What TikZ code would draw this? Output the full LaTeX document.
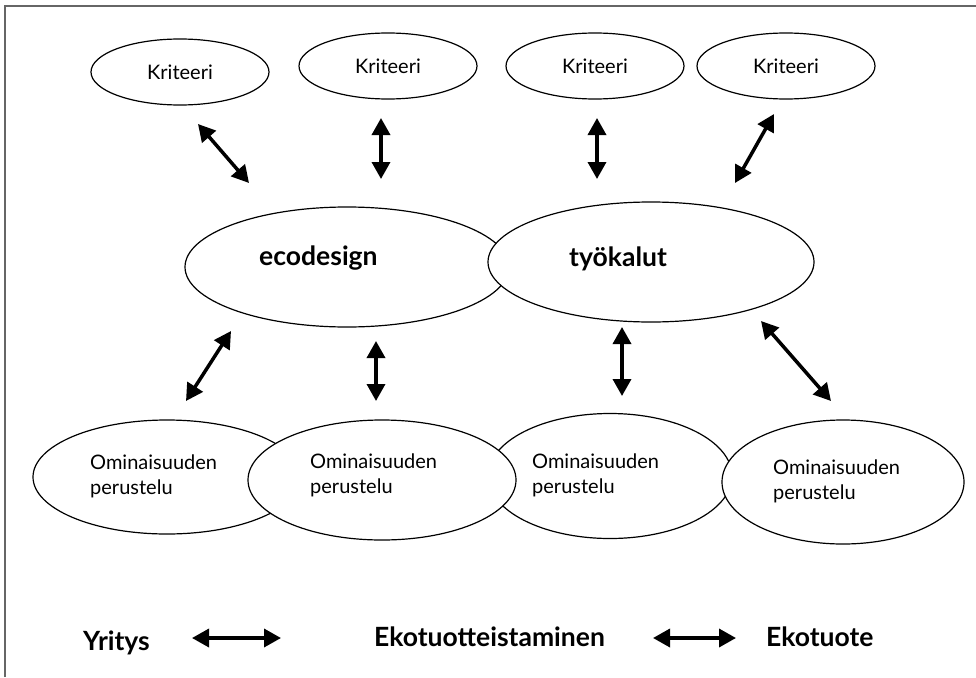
\documentclass[tikz,border=0pt]{standalone}
\usepackage{fontspec}
\setmainfont{Lato}
\usetikzlibrary{arrows.meta}
\usetikzlibrary{shapes.geometric}

\begin{document}
\begin{tikzpicture}[x=1pt,y=-1pt,
    oval/.style={draw, ellipse, fill=white, line width=1.2pt, inner sep=0pt},
    kriteeri/.style={oval, minimum width=178, minimum height=66, font=\fontsize{20}{25}\selectfont},
    plain/.style={font=\fontsize{20}{25}\selectfont, inner sep=0pt, align=left, anchor=base west},
    heading/.style={font=\fontsize{26.5}{30}\selectfont\bfseries, inner sep=0pt, anchor=base west},
    dblarrow/.style={{Triangle[length=17pt,width=18pt]}-{Triangle[length=17pt,width=18pt]}, line width=3.5pt},
    frame/.style={draw=black!60, line width=2pt}]
    \useasboundingbox (0,0) rectangle (976,677);
    \draw[frame] (5,677) -- (5,6) -- (976,6);

    % criteria
    \node[kriteeri] (k1) at (180,72) {Kriteeri};
    \node[kriteeri] (k2) at (388,66) {Kriteeri};
    \node[kriteeri] (k3) at (595,66) {Kriteeri};
    \node[kriteeri] (k4) at (786,66) {Kriteeri};

    % tools
    \node[oval, minimum width=324, minimum height=120] (eco) at (347,267) {};
    \node[oval, minimum width=326, minimum height=120] (tool) at (651,262) {};
    \node[heading] (ecot) at (259,265) {ecodesign};
    \node[heading] (toolt) at (569,266) {työkalut};

    % properties
    \node[oval, minimum width=268, minimum height=114] (om1) at (167,477) {};
    \node[oval, minimum width=244, minimum height=125] (om3) at (610,476) {};
    \node[oval, minimum width=242, minimum height=124] (om4) at (843,482) {};
    \node[oval, minimum width=268, minimum height=120] (om2) at (382,480) {};
    \node[plain] (om1t) at (90,494) {Ominaisuuden\\perustelu};
    \node[plain] (om2t) at (310,493) {Ominaisuuden\\perustelu};
    \node[plain] (om3t) at (532,493) {Ominaisuuden\\perustelu};
    \node[plain] (om4t) at (773,499) {Ominaisuuden\\perustelu};

    % bottom line
    \node[heading] (yr) at (83,650) {Yritys};
    \node[heading] (ekt) at (374,646) {Ekotuotteistaminen};
    \node[heading] (ek) at (766,646) {Ekotuote};

    \foreach \i/\s/\e in {a1/{198,124}/{249,183}, a2/{381,118}/{381,179},
        a3/{597,118}/{597,179}, a4/{774,114}/{735,183},
        a5/{231,331}/{186,401}, a6/{376,341}/{376,401},
        a7/{622,327}/{622,396}, a8/{761,321}/{831,401},
        b1/{192,638}/{281,638}, b2/{653,638}/{736,638}}{
      \coordinate (\i s) at (\s);
      \coordinate (\i e) at (\e);
      \draw[dblarrow] (\i s) -- (\i e);
    }
\end{tikzpicture}
\end{document}
